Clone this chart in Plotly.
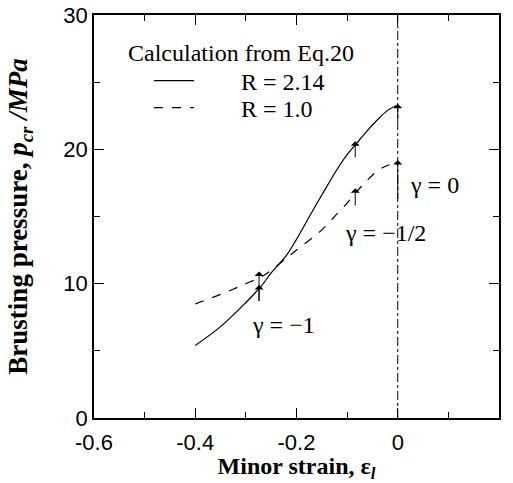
import plotly.graph_objects as go

# R = 2.14 curve (solid)
strain_r214 = [-0.40, -0.35, -0.30, -0.27, -0.25, -0.22, -0.20, -0.17, -0.15, -0.12, -0.10, -0.08, -0.06, -0.04, -0.02, 0.00]
press_r214 = [5.4, 6.8, 8.6, 9.8, 10.8, 12.1, 13.3, 15.3, 16.6, 18.5, 19.6, 20.5, 21.4, 22.2, 22.9, 23.3]

# R = 1.0 curve (dashed)
strain_r10 = [-0.40, -0.35, -0.30, -0.27, -0.25, -0.22, -0.20, -0.15, -0.12, -0.10, -0.08, -0.06, -0.04, -0.02, 0.00]
press_r10 = [8.5, 9.2, 10.0, 10.5, 11.0, 11.9, 12.5, 14.0, 15.2, 16.0, 16.9, 17.7, 18.4, 18.8, 19.0]

# plane strain reference line
ref_x = [0, 0]
ref_y = [0, 30]

# arrows marking gamma states
arrow_x = [-0.274, -0.274, -0.084, -0.084, 0.0, 0.0]
arrow_from = [8.6, 8.6, 19.3, 15.7, 22.0, 16.2]
arrow_to = [9.9, 10.9, 20.6, 17.1, 23.4, 19.2]

gamma_labels = ["γ = −1", "γ = −1/2", "γ = 0"]
gamma_x = [-0.292, -0.108, 0.02]
gamma_y = [6.9, 13.8, 17.35]

serif = "Liberation Serif, Times New Roman, serif"
sans = "Liberation Sans, Arial, sans-serif"
pad = "\u00a0" * 7

fig = go.Figure()
fig.add_trace(go.Scatter(x=strain_r214, y=press_r214, mode="lines", name=pad + "R = 2.14",
                         legend="legend", line=dict(color="black", width=1.2, shape="spline")))
fig.add_trace(go.Scatter(x=strain_r10, y=press_r10, mode="lines", name=pad + "R = 1.0",
                         legend="legend2", line=dict(color="black", width=1.2, dash="dash", shape="spline")))
fig.add_trace(go.Scatter(x=ref_x, y=ref_y, mode="lines", showlegend=False,
                         line=dict(color="black", width=1, dash="dashdot")))

for xa, y0, y1 in zip(arrow_x, arrow_from, arrow_to):
    fig.add_annotation(x=xa, y=y1, ax=xa, ay=y0, xref="x", yref="y", axref="x", ayref="y",
                       text="", showarrow=True, arrowhead=1, arrowsize=1.5, arrowwidth=1,
                       arrowcolor="black")

for t, gx, gy in zip(gamma_labels, gamma_x, gamma_y):
    fig.add_annotation(x=gx, y=gy, text=t, showarrow=False, xanchor="left", yanchor="middle",
                       font=dict(family=serif, size=24, color="black"))

# legend heading
fig.add_annotation(x=0.079, y=0.906, xref="paper", yref="paper", text="Calculation from Eq.20",
                   showarrow=False, xanchor="left", yanchor="middle",
                   font=dict(family=serif, size=24, color="black"))

fig.update_xaxes(range=[-0.6, 0.2], tickvals=[-0.6, -0.4, -0.2, 0, 0.2],
                 ticktext=["-0.6", "-0.4", "-0.2", "0", "0.2"],
                 ticks="inside", ticklen=10, tickwidth=1.2, tickcolor="black",
                 minor=dict(dtick=0.1, ticks="inside", ticklen=6, tickcolor="black"),
                 showline=True, linecolor="black", linewidth=1.5, mirror="ticks",
                 showgrid=False, zeroline=False, automargin=False, ticklabelstandoff=4,
                 tickfont=dict(family=sans, size=22, color="black"),
                 title=dict(text="<b>Minor strain, ε<sub><i>l</i></sub></b>", standoff=2,
                            font=dict(family=serif, size=24, color="black")))
fig.update_yaxes(range=[0, 30], tickvals=[0, 10, 20, 30],
                 ticks="inside", ticklen=10, tickwidth=1.2, tickcolor="black",
                 minor=dict(dtick=5, ticks="inside", ticklen=6, tickcolor="black"),
                 showline=True, linecolor="black", linewidth=1.5, mirror="ticks",
                 showgrid=False, zeroline=False, automargin=False,
                 tickfont=dict(family=sans, size=22, color="black"),
                 title=dict(text="<b>Brusting pressure, <i>p<sub>cr</sub> /MPa</i></b>", standoff=28,
                            font=dict(family=serif, size=27, color="black")))

legend_style = dict(xanchor="left", yanchor="middle", bgcolor="rgba(0,0,0,0)", itemwidth=40,
                    font=dict(family=serif, size=24, color="black"))
fig.update_layout(
    width=513, height=483,
    margin=dict(l=94, r=14, t=15, b=65),
    plot_bgcolor="white", paper_bgcolor="white",
    legend=dict(x=0.136, y=0.836, **legend_style),
    legend2=dict(x=0.136, y=0.769, **legend_style),
)

fig.write_html("out.html", config={"displayModeBar": False},
               post_script="document.body.style.margin='0px';")
